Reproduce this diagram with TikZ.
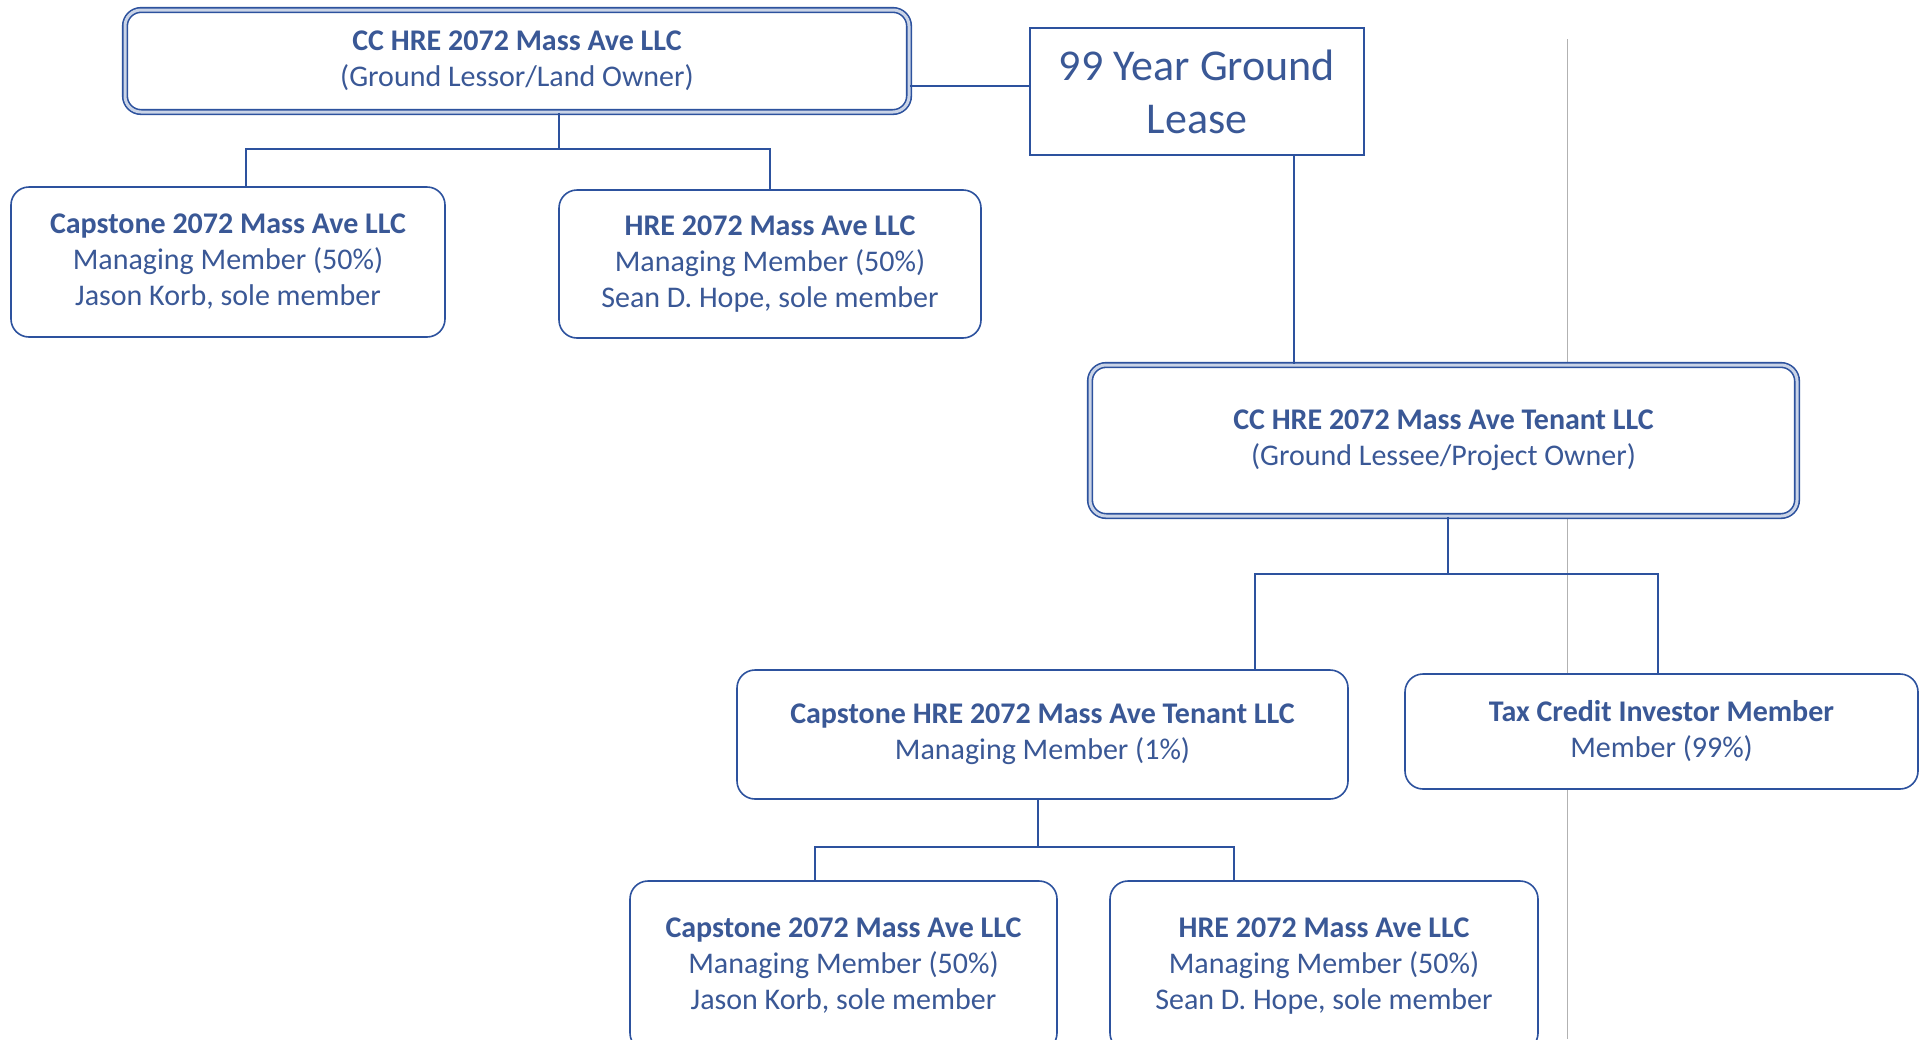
\documentclass[tikz,border=0pt]{standalone}
\usepackage{fontspec}
\setmainfont{Carlito}
\definecolor{txt}{RGB}{58,88,150}
\definecolor{ln}{RGB}{45,82,158}
\begin{document}
\begin{tikzpicture}[x=1pt,y=-1pt,
  txtstyle/.style={text=txt,font=\fontsize{30}{36}\selectfont,align=center},
  rbox/.style={txtstyle,draw=ln,line width=1.6pt,rounded corners=18pt,fill=white,inner sep=0pt},
  dbox/.style={txtstyle,draw=ln,line width=1.6pt,double=ln!25,double distance=3pt,rounded corners=16pt,fill=white,inner sep=0pt},
  sbox/.style={text=txt,font=\fontsize{44}{53}\selectfont,align=center,draw=ln,line width=1.2pt,fill=white,inner sep=0pt},
  conn/.style={draw=ln,line width=1.6pt}]
\useasboundingbox[fill=white] (0,0) rectangle (1927,1039);
\draw[gray!60,line width=0.8pt] (1567,39) -- (1567,1039);
% nodes
\node[dbox,minimum width=784,minimum height=102] (top) at (517,61) {\textbf{CC HRE 2072 Mass Ave LLC}\\(Ground Lessor/Land Owner)};
\node[sbox,minimum width=334,minimum height=127] (lease) at (1197,91.5) {99 Year Ground\\Lease};
\node[rbox,minimum width=434,minimum height=150] (cap1) at (228,262) {\textbf{Capstone 2072 Mass Ave LLC}\\Managing Member (50\%)\\Jason Korb, sole member};
\node[rbox,minimum width=422,minimum height=148] (hre1) at (770,264) {\textbf{HRE 2072 Mass Ave LLC}\\Managing Member (50\%)\\Sean D. Hope, sole member};
\node[dbox,minimum width=707,minimum height=151] (ten) at (1443.5,440.5) {\textbf{CC HRE 2072 Mass Ave Tenant LLC}\\(Ground Lessee/Project Owner)};
\node[rbox,minimum width=611,minimum height=129] (capt) at (1042.5,734.5) {\textbf{Capstone HRE 2072 Mass Ave Tenant LLC}\\Managing Member (1\%)};
\node[rbox,minimum width=513,minimum height=115] (tax) at (1661.5,731.5) {\textbf{Tax Credit Investor Member}\\Member (99\%)};
\node[rbox,minimum width=427,minimum height=170] (cap2) at (843.5,966) {\textbf{Capstone 2072 Mass Ave LLC}\\Managing Member (50\%)\\Jason Korb, sole member};
\node[rbox,minimum width=428,minimum height=170] (hre2) at (1324,966) {\textbf{HRE 2072 Mass Ave LLC}\\Managing Member (50\%)\\Sean D. Hope, sole member};
% junctions
\coordinate (j0) at (1000,86);
\coordinate (j1) at (559,149);
\coordinate (j2) at (1448,574);
\coordinate (j3) at (1038,847);
% connectors
\draw[conn] (top.east |- j0) -- (lease.west |- j0);
\draw[conn] (lease.south -| 1294,0) -- (ten.north -| 1294,0);
\draw[conn] (top.south -| j1) -- (j1);
\draw[conn] ([xshift=18pt]cap1.north) |- (j1) -| (hre1.north);
\draw[conn] (ten.south -| j2) -- (j2);
\draw[conn] (capt.north -| 1255,0) |- (j2) -| (tax.north -| 1658,0);
\draw[conn] (capt.south -| j3) -- (j3);
\draw[conn] (cap2.north -| 815,0) |- (j3) -| (hre2.north -| 1234,0);
\end{tikzpicture}
\end{document}
